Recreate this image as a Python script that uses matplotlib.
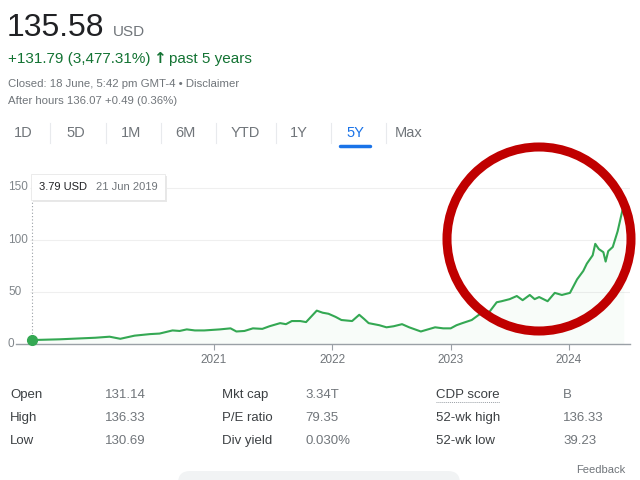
import matplotlib
matplotlib.use("Agg")
import matplotlib.pyplot as plt
import matplotlib.dates as mdates
from matplotlib.patches import Ellipse, FancyBboxPatch
import pandas as pd

plt.rcParams['font.family'] = ['Liberation Sans', 'DejaVu Sans']

# price history (USD)
dates = ["2019-06-21", "2019-09-13", "2020-01-01", "2020-02-14", "2020-03-18",
         "2020-05-01", "2020-06-18", "2020-07-17", "2020-08-26", "2020-09-17",
         "2020-10-09", "2020-11-03", "2020-12-02", "2021-01-19", "2021-02-21",
         "2021-03-11", "2021-04-05", "2021-05-01", "2021-05-30", "2021-06-21",
         "2021-07-24", "2021-08-11", "2021-08-29", "2021-09-24", "2021-10-12",
         "2021-10-30", "2021-11-14", "2021-12-02", "2021-12-20", "2022-01-11",
         "2022-01-29", "2022-03-03", "2022-03-25", "2022-04-09", "2022-04-23",
         "2022-05-26", "2022-06-17", "2022-07-09", "2022-08-04", "2022-08-26",
         "2022-09-13", "2022-10-01", "2022-10-23", "2022-11-14", "2022-12-09",
         "2023-01-01", "2023-01-19", "2023-02-06", "2023-03-07", "2023-03-29",
         "2023-05-01", "2023-05-23", "2023-06-07", "2023-07-02", "2023-07-24",
         "2023-08-11", "2023-09-02", "2023-09-17", "2023-10-01", "2023-10-27",
         "2023-11-18", "2023-12-10", "2024-01-04", "2024-01-26", "2024-02-14",
         "2024-02-25", "2024-03-14", "2024-03-22", "2024-04-02", "2024-04-16",
         "2024-04-23", "2024-05-01", "2024-05-15", "2024-05-30", "2024-06-13",
         "2024-06-18"]
prices = [3.8, 4.5, 6, 7, 5,
          8, 9.5, 10, 13, 12.5,
          14, 13, 13, 14, 15,
          12, 12.5, 15, 14.5, 17,
          20, 19, 22, 22, 21,
          27, 32, 30, 29, 26,
          23, 22, 28, 24, 20,
          18, 16, 17, 19, 16,
          14, 12, 14, 16, 15,
          15, 18, 20, 23, 28,
          31, 40, 41, 43, 46,
          42, 47, 43, 45, 41,
          49, 47, 49, 62, 70,
          77, 85, 96, 91, 88,
          79, 89, 93, 108, 127,
          135]

y_ticks = [0, 50, 100, 150]
x_years = [2021, 2022, 2023, 2024]
tabs = ["1D", "5D", "1M", "6M", "YTD", "1Y", "5Y", "Max"]
stats_labels = [["Open", "High", "Low"], ["Mkt cap", "P/E ratio", "Div yield"],
                ["CDP score", "52-wk high", "52-wk low"]]
stats_values = [["131.14", "136.33", "130.69"], ["3.34T", "79.35", "0.030%"],
                ["B", "136.33", "39.23"]]

W, H = 640, 480
GREEN = "#34a853"
GRAY = "#70757a"
DARK = "#202124"

fig = plt.figure(figsize=(6.4, 4.8), dpi=100)
fig.patch.set_facecolor("white")

# chart axes: x from 16px to 630px, y: 0 at 344px, 150 at 187px
ax_left, ax_right = 16, 630
y0_px, y150_px = 344, 187.5
ax_top, ax_bot = 170, 344
px_per_unit = (y0_px - y150_px) / 150
ymax = (y0_px - ax_top) / px_per_unit
ax = fig.add_axes([ax_left / W, 1 - ax_bot / H, (ax_right - ax_left) / W, (ax_bot - ax_top) / H])

d = pd.to_datetime(dates)
t2021 = mdates.date2num(pd.Timestamp("2021-01-01"))
t2024 = mdates.date2num(pd.Timestamp("2024-01-01"))
days_per_px = (t2024 - t2021) / (569 - 214)
xmin = t2021 - (214 - ax_left) * days_per_px
xmax = t2021 + (ax_right - 214) * days_per_px
ax.set_xlim(xmin, xmax)
ax.set_ylim(0, ymax)

x_num = mdates.date2num(d)
grid_start = t2021 - (214 - 30) * days_per_px
for v in y_ticks[1:]:
    ax.hlines(v, grid_start, xmax, color="#efefef", lw=0.8, zorder=0)

ax.fill_between(x_num, prices, 0, color=GREEN, alpha=0.03, lw=0)
ax.plot(x_num, prices, color=GREEN, lw=1.5, solid_joinstyle="round")
ax.plot([x_num[0], x_num[0]], [prices[0], ymax - (200 - ax_top) / px_per_unit],
        color="#9aa0a6", lw=0.8, ls=(0, (1, 2)))
ax.plot(x_num[0], prices[0], "o", color=GREEN, ms=7, zorder=5, clip_on=False)

for s in ["top", "right", "left"]:
    ax.spines[s].set_visible(False)
ax.spines["bottom"].set_color("#9aa0a6")
ax.spines["bottom"].set_linewidth(1)
ax.set_yticks([])
ax.set_xticks([mdates.date2num(pd.Timestamp(f"{y}-01-01")) for y in x_years])
ax.set_xticklabels([str(y) for y in x_years])
ax.tick_params(axis="x", length=4, color="#9aa0a6", labelcolor=GRAY, labelsize=8.5, pad=3)

# overlay in pixel coordinates
ov = fig.add_axes([0, 0, 1, 1], zorder=10)
ov.set_xlim(0, W)
ov.set_ylim(H, 0)
ov.axis("off")
ov.patch.set_alpha(0)

for v in y_ticks:
    ov.text(8, y0_px - v * px_per_unit, str(v), color="#80868b", fontsize=8.5, va="center", ha="left")

# tooltip
ov.add_patch(FancyBboxPatch((33, 176), 134, 26, boxstyle="square,pad=0", fc="#e8e8e8",
                            ec="none", zorder=2))
ov.add_patch(FancyBboxPatch((31, 174), 134, 26, boxstyle="square,pad=0", fc="white",
                            ec="#e3e3e3", lw=0.5, zorder=3))
ov.text(39, 187, "3.79 USD", color=DARK, fontsize=8, va="center", zorder=4)
ov.text(96, 187, "21 Jun 2019", color=GRAY, fontsize=8, va="center", zorder=4)

# header
ov.text(7, 36, "135.58", fontsize=23, color=DARK, va="baseline")
ov.text(113, 36, "USD", fontsize=11, color=GRAY, va="baseline")
ov.text(8, 63, "+131.79 (3,477.31%)", fontsize=11, color="#137333", va="baseline")
ov.text(153, 63, "\u2191", fontsize=11, color="#137333", va="baseline", fontweight="bold",
        family="DejaVu Sans")
ov.text(169, 63, "past 5 years", fontsize=11, color="#137333", va="baseline")
ov.text(8, 87, "Closed: 18 June, 5:42 pm GMT-4 \u2022 Disclaimer", fontsize=8.2, color=GRAY, va="baseline")
ov.text(8, 104, "After hours 136.07 +0.49 (0.36%)", fontsize=8.2, color=GRAY, va="baseline")

# tabs
tab_x = [23, 76, 131, 185, 245, 299, 355, 409]
seps = [50, 106, 161, 216, 276, 331, 386]
for lbl, x in zip(tabs, tab_x):
    ov.text(x, 133, lbl, fontsize=10.5, color="#1a73e8" if lbl == "5Y" else GRAY,
            ha="center", va="center")
for x in seps:
    ov.plot([x, x], [123, 143], color="#e8eaed", lw=0.8)
ov.plot([340, 370], [146, 146], color="#1a73e8", lw=2.5, solid_capstyle="round")

# stats table
col_lbl_x = [10, 222, 436]
col_val_x = [105, 305, 563]
row_y = [395, 418, 441]
for c in range(3):
    for r in range(3):
        ov.text(col_lbl_x[c], row_y[r], stats_labels[c][r], fontsize=9.5, color="#3c4043", va="center")
        ov.text(col_val_x[c], row_y[r], stats_values[c][r], fontsize=9.5, color=GRAY, va="center")
ov.plot([436, 500], [402, 402], color="#9aa0a6", lw=0.7, ls=(0, (1, 1)))

ov.text(625, 470, "Feedback", fontsize=8, color=GRAY, ha="right", va="center")
ov.add_patch(FancyBboxPatch((178, 471), 282, 30, boxstyle="round,pad=0,rounding_size=12",
                            fc="#f1f3f4", ec="none"))

# red circle annotation
ov.add_patch(Ellipse((539, 239), 184, 184, fill=False, ec="#c00000", lw=6.5))

fig.savefig("out.png", dpi=100)
